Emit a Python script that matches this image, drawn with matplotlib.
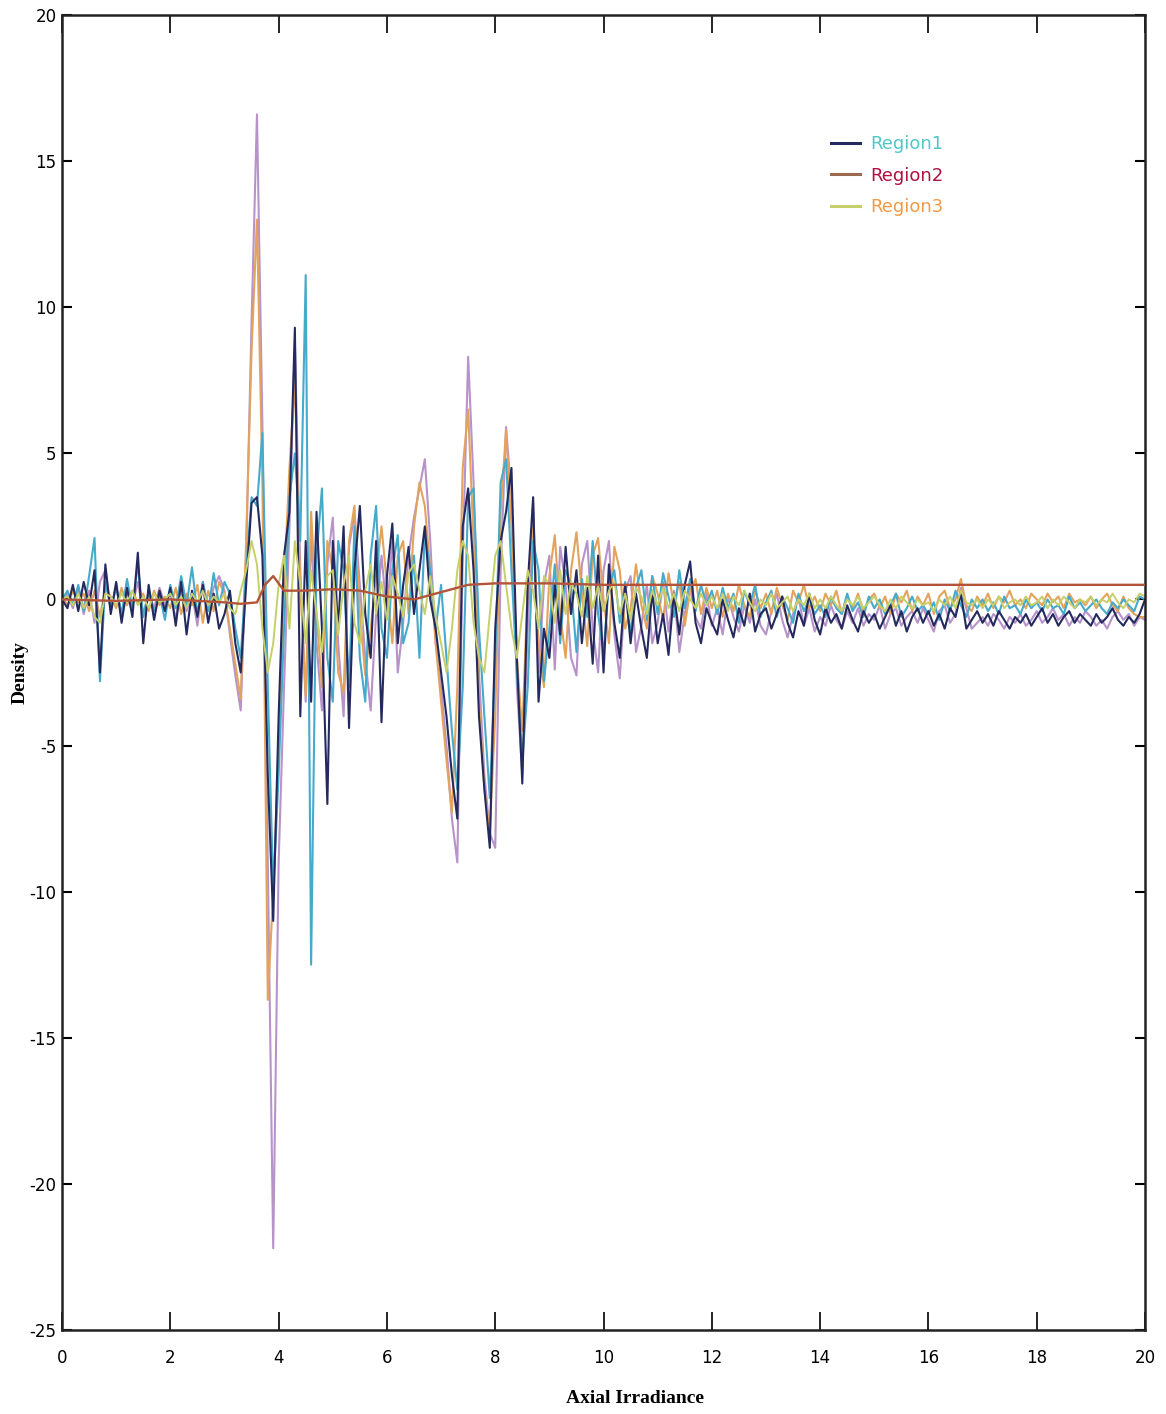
import numpy as np
import matplotlib
matplotlib.use("Agg")
import matplotlib.pyplot as plt
from matplotlib.lines import Line2D

# Sample positions (Axial Irradiance), 0.1 step from 0 to 20
x_grid = [round(0.1 * i, 1) for i in range(201)]

lavender = [
    0.0, 0.2, -0.3, 0.4, -0.5, 0.3, -0.8, 0.6, 1.0, -0.4,
    0.5, -0.6, 0.3, -0.2, 0.6, -0.5, 0.2, -0.3, 0.4, -0.2,
    0.3, -0.7, 0.5, -0.4, 0.2, -0.9, 0.6, -0.3, 0.4, 0.8,
    0.3, -1.2, -2.6, -3.8, 1.5, 9.5, 16.6, 6.0, -9.0, -22.2,
    -9.0, -3.0, 2.5, 8.8, 1.0, -3.5, 2.2, -1.5, -3.8, 1.2,
    2.8, -1.5, -4.0, 1.8, 2.9, 0.5, -2.0, -3.8, -0.5, 1.5,
    -0.5, 2.0, -2.5, -0.8, 1.5, 2.8, 3.8, 4.8, 2.0, -1.5,
    -3.0, -5.0, -7.5, -9.0, 1.5, 8.3, 4.0, -2.5, -6.0, -8.0,
    -8.5, 1.0, 5.9, 3.5, -3.0, -6.0, -1.0, 3.3, -2.5, 0.5,
    1.5, -2.4, 1.8, 0.5, -2.0, -2.6, 1.2, 2.0, -1.0, -2.5,
    1.0, 2.0, -1.2, -2.7, 0.3, 0.8, -1.8, -0.9, 0.5, -1.5,
    -0.8, 0.6, -1.1, 0.3, -1.8, -0.5, 0.4, -0.6, -1.0, 0.2,
    -0.9, -0.3, -1.2, 0.1, -0.6, -1.1, -0.2, -0.8, 0.0, -0.9,
    -1.2, -0.4, 0.2, -0.7, -1.3, -0.5, 0.1, -0.9, -0.3, -1.1,
    -0.6, -0.9, -0.2, -0.7, -1.0, -0.4, -0.8, -0.3, -0.9, -0.5,
    -0.7, -0.2, -1.0, -0.5, -0.3, -0.9, -0.6, -0.4, -0.8, -0.3,
    -0.7, -1.1, -0.4, -0.2, -0.8, -0.5, 0.4, -0.3, -1.0, -0.8,
    -0.6, -0.9, -0.5, -0.7, -1.0, -0.6, -0.8, -0.5, -0.9, -0.7,
    -0.4, -0.8, -0.6, -0.3, -0.7, -0.5, -0.9, -0.6, -0.8, -0.4,
    -0.6, -0.9, -0.7, -1.0, -0.6, -0.4, -0.7, -0.5, -0.9, -0.6,
    -0.7,
]

orange = [
    0.1, -0.2, 0.3, -0.1, 0.2, -0.4, 0.3, -0.6, 0.4, 0.1,
    -0.3, 0.4, -0.2, 0.3, -0.1, 0.2, -0.4, 0.3, -0.2, 0.1,
    -0.3, 0.4, -0.5, 0.2, -0.2, 0.5, -0.8, 0.3, -0.4, 0.6,
    0.2, -1.0, -2.2, -3.4, 2.0, 8.5, 13.0, 4.0, -13.7, -10.0,
    -5.0, 0.5, 4.5, 7.5, 0.5, -3.3, 3.0, -0.5, -3.0, 2.0,
    1.0, -2.5, -3.2, 2.0, 3.2, -0.5, -2.6, -1.0, 0.8, 2.5,
    0.5, -1.5, 1.5, 2.0, -0.5, 2.5, 4.0, 3.2, 1.0, -1.5,
    -3.5, -5.5, -7.3, -3.0, 4.5, 6.5, 2.0, -3.5, -6.5, -7.9,
    -4.0, 3.0, 5.8, 2.5, -2.0, -4.5, 0.5, 2.5, -1.5, -3.0,
    0.8, 2.2, -0.5, -2.0, 1.0, 2.3, 0.2, -1.6, 1.5, 2.1,
    0.0, -1.5, 1.8, 1.0, -1.0, -0.3, 1.2, -0.2, -1.0, 0.8,
    0.2, -0.7, 0.9, -0.2, 0.6, -0.9, 0.3, 0.7, -0.5, 0.4,
    -0.3, 0.3, -0.6, 0.2, -0.4, 0.5, -0.2, -0.6, 0.3, -0.3,
    0.2, -0.5, 0.4, -0.2, -0.7, 0.3, -0.1, 0.5, -0.3, 0.1,
    -0.4, 0.2, -0.2, 0.3, -0.5, 0.1, -0.3, 0.2, -0.4, 0.0,
    0.2, -0.3, 0.1, -0.5, 0.2, -0.1, 0.3, -0.4, 0.1, -0.2,
    0.2, -0.5, 0.1, 0.3, -0.3, 0.0, 0.7, -0.2, -0.4, 0.1,
    -0.2, 0.2, -0.3, 0.1, -0.1, 0.3, -0.2, 0.0, -0.3, 0.2,
    0.0, -0.2, 0.2, -0.1, 0.1, -0.3, 0.2, -0.1, 0.0, -0.2,
    0.1, -0.3, 0.0, 0.2, -0.2, -0.4, 0.1, -0.3, -0.5, -0.6,
    -0.6,
]

cyan = [
    0.0, 0.3, -0.2, 0.5, -0.4, 0.8, 2.1, -2.8, 0.6, -0.3,
    0.4, -0.5, 0.7, -0.3, 1.2, -0.6, 0.3, -0.4, 0.2, -0.7,
    0.5, -0.3, 0.8, -0.2, 1.1, -0.5, 0.6, -0.4, 0.9, -0.2,
    0.6, 0.2, -1.0, -2.0, 1.0, 3.5, 3.2, 5.7, -3.0, -10.0,
    -6.0, -1.0, 3.5, 5.0, 2.0, 11.1, -12.5, 1.5, 3.8, -2.0,
    -3.5, 2.0, 1.0, -3.0, 2.5, -2.0, -3.5, 1.5, 3.2, -1.0,
    -2.0, 1.0, 2.2, -1.5, -0.8, 1.5, -2.0, 2.3, 1.0, -1.0,
    0.5, -2.0, -4.5, -6.5, -3.0, 3.5, 3.8, -1.0, -4.0, -6.8,
    -2.0, 4.0, 4.8, 1.0, -2.5, -5.5, -3.0, 2.0, 1.0, -2.8,
    -1.0, 1.2, -1.5, 1.0, 0.5, -1.8, 0.7, -0.6, 2.0, -0.5,
    -1.8, 0.5, 1.0, -0.8, 0.6, -1.2, 0.4, 1.0, -0.7, 0.8,
    -0.5, 0.9, 0.1, -0.6, 1.0, -0.3, 0.7, -0.4, 0.5, -0.2,
    0.3, -0.5, 0.4, -0.3, 0.2, -0.8, 0.3, -0.2, 0.5, -0.6,
    -0.1, 0.3, -0.6, 0.1, -0.3, -0.8, 0.2, -0.4, 0.0, -0.5,
    -0.2, -0.6, 0.1, -0.3, -0.5, 0.2, -0.4, -0.1, -0.6, 0.1,
    -0.3, 0.0, -0.5, -0.2, 0.2, -0.6, -0.3, 0.1, -0.4, -0.2,
    -0.5, -0.1, -0.7, 0.0, -0.4, 0.3, -0.2, -0.6, 0.0, -0.3,
    0.0, -0.4, -0.1, -0.5, 0.1, -0.3, -0.2, -0.5, 0.0, -0.3,
    -0.1, -0.4, 0.0, -0.3, -0.2, -0.5, 0.1, -0.3, -0.1, -0.4,
    -0.2, 0.0, -0.3, -0.5, -0.1, -0.3, 0.0, -0.2, -0.4, 0.1,
    0.0,
]

region1 = [
    0.0, -0.3, 0.5, -0.4, 0.6, -0.2, 1.0, -2.5, 1.2, -0.5,
    0.6, -0.8, 0.4, -0.6, 1.6, -1.5, 0.5, -0.7, 0.3, -0.4,
    0.4, -0.9, 0.6, -1.2, 0.3, -0.6, 0.5, -0.8, 0.2, -1.0,
    -0.5, 0.3, -1.5, -2.5, 0.5, 3.3, 3.5, 1.5, -6.0, -11.0,
    -4.0, 1.5, 3.0, 9.3, -4.0, 2.0, -3.5, 3.0, -1.0, -7.0,
    2.0, -1.0, 2.5, -4.4, 1.0, 3.2, -0.5, -2.0, 2.0, -4.2,
    0.8, 2.6, -1.5, 0.5, 1.8, -0.5, 1.0, 2.5, 0.0, -1.0,
    -2.5, -4.0, -6.0, -7.5, 2.5, 3.8, 1.0, -4.0, -6.5, -8.5,
    -1.0, 2.0, 3.0, 4.5, -2.0, -6.3, 0.5, 3.5, -3.5, -1.0,
    -2.0, 0.5, -1.2, 1.8, -0.5, 1.0, -1.5, 0.4, -2.2, 1.5,
    -2.5, 1.2, -0.8, -2.0, 0.5, -1.5, 0.2, -1.0, -2.0, 0.3,
    -1.5, -0.5, -1.9, 0.2, -1.2, 0.5, 1.3, -0.8, -1.5, -0.3,
    -0.8, -1.2, 0.0, -0.7, -1.3, -0.3, -0.9, 0.2, -1.1, -0.5,
    -0.3, -1.0, -0.5, 0.1, -0.8, -1.3, -0.4, -0.9, 0.2, -0.7,
    -1.2, -0.3, -0.8, -0.5, -1.0, -0.2, -0.7, -1.1, -0.4, -0.8,
    -0.5, -1.0, -0.6, -0.2, -0.9, -0.4, -1.1, -0.6, -0.3, -0.8,
    -0.4, -0.9, -0.5, -1.0, -0.3, -0.6, 0.2, -1.0, -0.7, -0.4,
    -0.8, -0.5, -0.9, -0.4, -0.7, -1.0, -0.6, -0.8, -0.5, -0.9,
    -0.6, -0.3, -0.8, -0.5, -0.9, -0.6, -0.4, -0.8, -0.5, -0.7,
    -0.9, -0.5, -0.8, -0.6, -0.3, -0.7, -0.9, -0.6, -0.8, -0.5,
    0.0,
]

region3 = [
    0.0, 0.1, -0.2, 0.2, -0.3, 0.1, -0.6, -0.8, 0.2, 0.1,
    -0.2, 0.2, -0.1, 0.3, -0.2, 0.1, -0.3, 0.2, -0.1, 0.0,
    0.2, -0.2, 0.1, -0.3, 0.2, -0.1, 0.3, -0.2, 0.1, -0.1,
    0.2, -0.3, -0.5, 0.3, 1.0, 2.0, 1.2, -1.0, -2.5, -1.5,
    0.5, 1.5, -1.0, 2.0, 0.5, -1.5, 1.0, -0.5, -1.8, 0.8,
    1.0, -1.2, 0.5, 1.5, -0.8, -1.5, 0.3, 1.2, -0.5, 0.6,
    -0.7, 0.8, 0.2, -0.6, 0.9, 1.2, 0.3, -0.5, 0.8, -0.6,
    -1.5, -2.5, -1.0, 1.0, 2.0, 1.5, -0.8, -2.0, -2.5, -0.5,
    1.5, 2.0, 0.5, -1.0, -2.0, -0.5, 1.0, 0.3, -1.0, 0.8,
    0.5, -0.8, 1.0, -0.5, 0.6, 0.2, -0.6, 0.8, -0.3, 0.5,
    -0.4, 0.3, 0.6, -0.5, 0.2, -0.7, 0.4, 0.1, -0.5, 0.3,
    -0.2, 0.4, -0.3, 0.2, -0.4, 0.3, 0.0, -0.3, 0.2, -0.2,
    0.1, -0.3, 0.2, -0.4, 0.1, -0.2, 0.3, -0.1, -0.4, 0.0,
    -0.2, 0.2, -0.3, -0.1, 0.1, -0.4, 0.0, -0.2, 0.2, -0.3,
    0.0, -0.3, 0.1, -0.2, -0.4, 0.0, -0.2, 0.1, -0.3, -0.1,
    0.1, -0.2, -0.4, 0.0, -0.3, 0.1, -0.1, -0.3, 0.0, -0.2,
    -0.1, -0.4, 0.0, -0.2, 0.1, -0.3, 0.3, -0.1, -0.2, 0.0,
    -0.3, 0.0, -0.2, 0.1, -0.3, -0.1, 0.0, -0.2, 0.1, -0.2,
    -0.1, 0.1, -0.3, 0.0, -0.2, 0.1, -0.1, -0.3, 0.0, -0.1,
    0.1, -0.2, 0.0, -0.1, 0.2, -0.1, -0.3, 0.0, -0.1, 0.2,
    0.1,
]

# Region2 is a slow baseline drift, given at its turning points
region2_x = [0, 1, 2, 3, 3.3, 3.6, 3.75, 3.9, 4.1, 4.5, 5, 5.5, 6, 6.5,
             7, 7.5, 8, 9, 10, 12, 14, 16, 18, 20]
region2_y = [0.0, -0.05, 0.0, -0.1, -0.15, -0.1, 0.5, 0.8, 0.3, 0.3, 0.35,
             0.3, 0.1, 0.0, 0.25, 0.5, 0.55, 0.55, 0.5, 0.5, 0.5, 0.5, 0.5, 0.5]

x_ticks = list(range(0, 21, 2))
y_ticks = list(range(-25, 21, 5))

fig = plt.figure(figsize=(11.66, 14.14), dpi=100)
ax = fig.add_axes([0.0532, 0.0594, 0.9288, 0.93])

ax.plot(x_grid, lavender, color="#b793c9", lw=1.5, zorder=2)
ax.plot(x_grid, orange, color="#e3a35c", lw=1.5, zorder=2.1)
ax.plot(x_grid, cyan, color="#46aacb", lw=1.5, zorder=2.2)
ax.plot(x_grid, region1, color="#252a5e", lw=1.5, zorder=2.3)
ax.plot(x_grid, region3, color="#c6d06a", lw=1.4, zorder=2.4)
ax.plot(region2_x, region2_y, color="#b3543a", lw=1.7, zorder=3)

ax.set_xlim(0, 20)
ax.set_ylim(-25, 20)
ax.set_xticks(x_ticks)
ax.set_yticks(y_ticks)
tick_font = dict(family=["Liberation Sans Narrow", "DejaVu Sans"], size=12)
ax.set_xticklabels([str(t) for t in x_ticks], fontdict=tick_font)
ax.set_yticklabels([str(t) for t in y_ticks], fontdict=tick_font)
ax.tick_params(axis="x", direction="in", length=13, width=1.2, top=True,
               pad=14, colors="black")
ax.tick_params(axis="y", direction="in", length=7, width=1.5, right=True,
               pad=4, colors="black")
for side in ax.spines.values():
    side.set_linewidth(1.8)
    side.set_color("#222222")

ax.set_xlabel("Axial Irradiance", family="Liberation Serif",
              fontweight="bold", fontsize=14)
ax.xaxis.set_label_coords(0.529, -0.046)
ax.set_ylabel("Density", family="Liberation Serif", fontweight="bold",
              fontsize=14)
ax.yaxis.set_label_coords(-0.031, 0.5)

handles = [Line2D([], [], color="#252a5e", lw=2.2),
           Line2D([], [], color="#9b6a4e", lw=2.2),
           Line2D([], [], color="#c6d06a", lw=2.2)]
leg = ax.legend(handles, ["Region1", "Region2", "Region3"],
                loc="upper left", bbox_to_anchor=(0.695, 0.921),
                frameon=False, handlelength=1.6,
                handletextpad=0.6, labelspacing=0.75,
                prop={"family": "DejaVu Sans", "size": 13})
for txt, col in zip(leg.get_texts(), ["#52c6c8", "#b0103f", "#f09a48"]):
    txt.set_color(col)

fig.savefig("out.png", dpi=100)
